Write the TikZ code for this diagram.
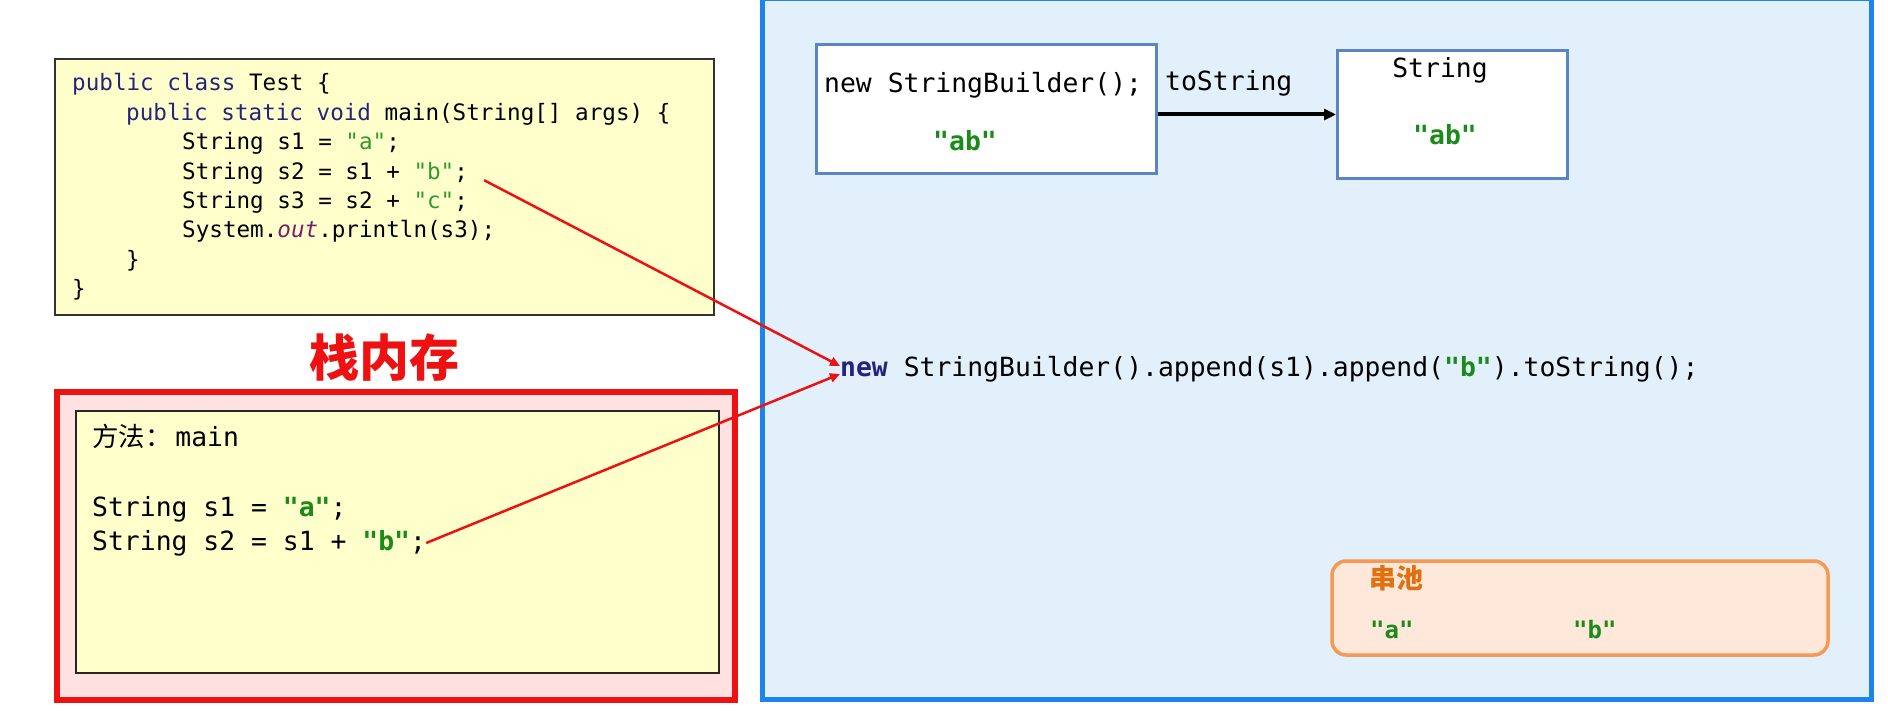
\documentclass[tikz,border=0pt]{standalone}
\usepackage{fontspec}
\setmonofont{DejaVu Sans Mono}
\newfontfamily\cjk{Noto Sans CJK SC}
\usepackage{tikz}
\usetikzlibrary{arrows.meta,positioning}
\definecolor{codeyellow}{HTML}{FFFFCC}
\definecolor{stackred}{HTML}{EE1111}
\definecolor{stackpink}{HTML}{FFE1E1}
\definecolor{heapblue}{HTML}{1C84EE}
\definecolor{heapfill}{HTML}{E2F0FC}
\definecolor{objblue}{HTML}{5B84C4}
\definecolor{poolorange}{HTML}{F59A55}
\definecolor{poolfill}{HTML}{FDE8D9}
\definecolor{pooltext}{HTML}{E2700F}
\definecolor{kwblue}{HTML}{23237F}
\definecolor{litgreen}{HTML}{2E9A2E}
\definecolor{boldgreen}{HTML}{1A8A1A}
\definecolor{fieldpurple}{HTML}{74206F}
\newcommand{\kw}[1]{\textcolor{kwblue}{#1}}
\newcommand{\lit}[1]{\textcolor{litgreen}{#1}}
\newcommand{\blit}[1]{\textcolor{boldgreen}{\bfseries #1}}
\tikzset{
  codebox/.style={draw=black!80, line width=2pt, fill=codeyellow, inner sep=0pt},
  stackbox/.style={draw=stackred, line width=6pt, fill=stackpink, inner sep=0pt},
  framebox/.style={draw=black!85, line width=2pt, fill=codeyellow, inner sep=0pt},
  heapbox/.style={draw=heapblue, line width=5pt, fill=heapfill, inner sep=0pt},
  objbox/.style={draw=objblue, line width=3pt, fill=white, inner sep=0pt},
  poolbox/.style={draw=poolorange, line width=3.5pt, fill=poolfill, rounded corners=14pt, inner sep=0pt},
  codeline/.style={anchor=west, inner sep=0pt, text height=1em, text depth=0pt,
    font=\ttfamily\fontsize{22.6}{29}\selectfont},
  bigline/.style={codeline, font=\ttfamily\fontsize{26.4}{32}\selectfont},
  strval/.style={bigline, anchor=center, font=\ttfamily\bfseries\fontsize{26.4}{32}\selectfont, text=boldgreen},
  redarrow/.style={-{Triangle[length=10pt,width=9pt]}, line width=2.5pt, draw=stackred},
  objarrow/.style={-{Triangle[length=12pt,width=11pt]}, line width=4pt, draw=black}
}
\begin{document}
\begin{tikzpicture}[x=1pt, y=-1pt]
\useasboundingbox (0,0) rectangle (1888,711);
\node[codebox, minimum width=659pt, minimum height=256pt] (code) at (384.5,187) {};
\node[codeline] (l1) at (72,86) {\kw{public class} Test \{};
\node[codeline] (l2) at (126,115.4) {\kw{public static void} main(String[] args) \{};
\node[codeline] (l3) at (182,144.8) {String s1 = \lit{"a"};};
\node[codeline] (codeS2) at (182,174.2) {String s2 = s1 + \lit{"b"};};
\node[codeline] (l5) at (182,203.6) {String s3 = s2 + \lit{"c"};};
\node[codeline] (l6) at (182,233) {System.\textcolor{fieldpurple}{\itshape out}.println(s3);};
\node[codeline] (l7) at (126,262.4) {\}};
\node[codeline] (l8) at (72,291.8) {\}};

\node[font=\cjk\bfseries\fontsize{50}{56}\selectfont, text=stackred] (title) at (384,358) {栈内存};
\node[stackbox, minimum width=678pt, minimum height=308pt] (stack) at (396,546) {};
\node[framebox, minimum width=643pt, minimum height=262pt] (frame) at (397.5,542) {};
\node[bigline] (method) at (92,441) {{\cjk 方法：}\hspace{4pt}main};
\node[bigline] (frameS1) at (92,511) {String s1 = \blit{"a"};};
\node[bigline] (frameS2) at (92,545) {String s2 = s1 + \blit{"b"};};

\node[heapbox, minimum width=1108.5pt, minimum height=700.5pt] (heap) at (1316.75,349.25) {};
\node[objbox, minimum width=340pt, minimum height=129pt] (sbobj) at (986.5,109) {};
\node[bigline] (sbtext) at (824,88) {new StringBuilder();};
\node[strval] (sbval) at (965,146) {"ab"};
\node[objbox, minimum width=230pt, minimum height=128pt] (strobj) at (1452.5,114.5) {};
\node[bigline, anchor=center] (strtype) at (1440,73) {String};
\node[strval] (strval) at (1445,140) {"ab"};
\node[bigline] (tostr) at (1165,86) {toString};
\node[bigline] (mid) at (840,371.5) {\textcolor{kwblue}{\bfseries new} StringBuilder().append(s1).append(\blit{"b"}).toString();};

\node[poolbox, minimum width=496pt, minimum height=94pt] (pool) at (1580,608) {};
\node[codeline, font=\cjk\bfseries\fontsize{27}{30}\selectfont, text=pooltext] (pooltitle) at (1369,583) {串池};
\node[strval, anchor=west, font=\ttfamily\bfseries\fontsize{24}{28}\selectfont] (poolA) at (1370,633) {"a"};
\node[strval, anchor=west, font=\ttfamily\bfseries\fontsize{24}{28}\selectfont] (poolB) at (1573,633) {"b"};

\draw[objarrow] (sbobj.east |- strobj.west) -- (strobj.west);
\draw[redarrow] ([xshift=16pt,yshift=-6pt]codeS2.east) -- ([yshift=5.5pt]mid.west);
\draw[redarrow] ([yshift=2pt]frameS2.east) -- ([yshift=-2.5pt]mid.west);
\end{tikzpicture}
\end{document}
